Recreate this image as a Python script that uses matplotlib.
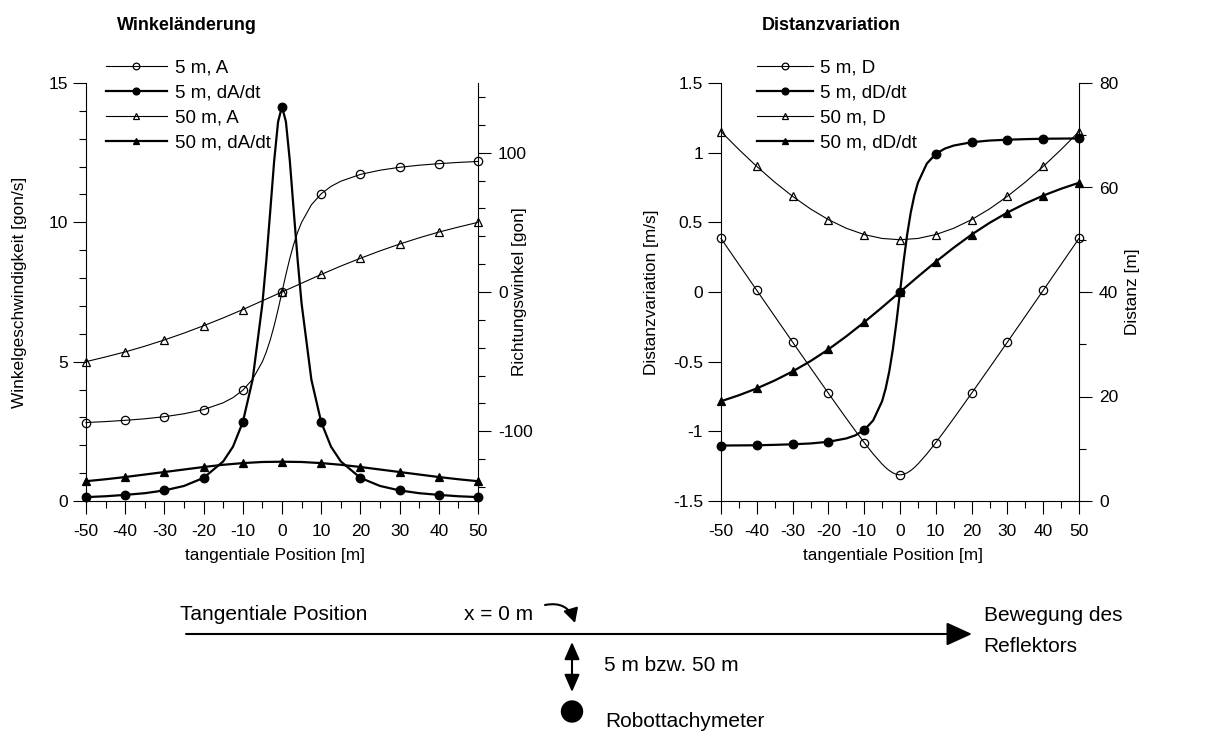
import matplotlib
matplotlib.use('Agg')
import matplotlib.pyplot as plt
from matplotlib.patches import FancyArrowPatch, Circle
from matplotlib.ticker import MultipleLocator, FormatStrFormatter

plt.rcParams['font.family'] = 'Liberation Sans'
plt.rcParams['axes.unicode_minus'] = False

# tangential position [m]; dense grid for the 5 m curves, 5 m grid for 50 m
x_fine = [-50, -45, -40, -35, -30, -25, -20, -15, -12.5, -10, -7.5, -5, -4, -3, -2, -1, 0,
          1, 2, 3, 4, 5, 7.5, 10, 12.5, 15, 20, 25, 30, 35, 40, 45, 50]
x_coarse = [-50, -45, -40, -35, -30, -25, -20, -15, -10, -5, 0,
            5, 10, 15, 20, 25, 30, 35, 40, 45, 50]

# Winkeländerung
a5 = [-93.7, -93.0, -92.1, -91.0, -89.5, -87.4, -84.4, -79.5, -75.8, -70.5, -62.6, -50.0, -43.0, -34.4, -24.2, -12.6, 0.0,
      12.6, 24.2, 34.4, 43.0, 50.0, 62.6, 70.5, 75.8, 79.5, 84.4, 87.4, 89.5, 91.0, 92.1, 93.0, 93.7]
da5 = [0.14, 0.17, 0.22, 0.28, 0.38, 0.54, 0.83, 1.42, 1.95, 2.83, 4.35, 7.08, 8.63, 10.40, 12.20, 13.61, 14.15,
       13.61, 12.20, 10.40, 8.63, 7.08, 4.35, 2.83, 1.95, 1.42, 0.83, 0.54, 0.38, 0.28, 0.22, 0.17, 0.14]
a50 = [-50.0, -46.6, -43.0, -38.9, -34.4, -29.5, -24.2, -18.6, -12.6, -6.3, 0.0,
       6.3, 12.6, 18.6, 24.2, 29.5, 34.4, 38.9, 43.0, 46.6, 50.0]
da50 = [0.71, 0.78, 0.86, 0.95, 1.04, 1.13, 1.22, 1.30, 1.36, 1.40, 1.41,
        1.40, 1.36, 1.30, 1.22, 1.13, 1.04, 0.95, 0.86, 0.78, 0.71]

# Distanzvariation
d5 = [50.25, 45.28, 40.31, 35.36, 30.41, 25.50, 20.62, 15.81, 13.46, 11.18, 9.01, 7.07, 6.40, 5.83, 5.39, 5.10, 5.00,
      5.10, 5.39, 5.83, 6.40, 7.07, 9.01, 11.18, 13.46, 15.81, 20.62, 25.50, 30.41, 35.36, 40.31, 45.28, 50.25]
dd5 = [-1.102, -1.101, -1.100, -1.097, -1.093, -1.087, -1.075, -1.051, -1.029, -0.991, -0.922, -0.784, -0.692, -0.570, -0.412, -0.217, 0.0,
       0.217, 0.412, 0.570, 0.692, 0.784, 0.922, 0.991, 1.029, 1.051, 1.075, 1.087, 1.093, 1.097, 1.100, 1.101, 1.102]
d50 = [70.71, 67.27, 64.03, 61.03, 58.31, 55.90, 53.85, 52.20, 50.99, 50.25, 50.00,
       50.25, 50.99, 52.20, 53.85, 55.90, 58.31, 61.03, 64.03, 67.27, 70.71]
dd50 = [-0.784, -0.741, -0.692, -0.635, -0.570, -0.496, -0.412, -0.318, -0.217, -0.110, 0.0,
        0.110, 0.217, 0.318, 0.412, 0.496, 0.570, 0.635, 0.692, 0.741, 0.784]

W, H = 1231, 733
fig = plt.figure(figsize=(W / 100, H / 100), dpi=100)


def box(x0, y0, x1, y1):
    return [x0 / W, 1 - y1 / H, (x1 - x0) / W, (y1 - y0) / H]


mk_fine = [i for i, v in enumerate(x_fine) if v % 10 == 0]
mk_coarse = [i for i, v in enumerate(x_coarse) if v % 10 == 0]

thin = dict(color='k', lw=0.8, clip_on=False, mew=0.9)
thick = dict(color='k', lw=1.6, clip_on=False, mew=0.9)


def style(ax, tw):
    ax.set_xlim(-50, 50)
    ax.xaxis.set_major_locator(MultipleLocator(10))
    ax.xaxis.set_minor_locator(MultipleLocator(5))
    ax.spines['top'].set_visible(False)
    ax.spines['right'].set_visible(False)
    tw.spines['top'].set_visible(False)
    tw.spines['left'].set_visible(False)
    tw.spines['bottom'].set_visible(False)
    for a in (ax, tw):
        for s in a.spines.values():
            s.set_linewidth(0.8)
        a.tick_params(which='major', direction='out', length=9.4, width=0.8, labelsize=12.5)
        a.tick_params(which='minor', direction='out', length=5, width=0.8)
    ax.tick_params(axis='x', which='major', pad=7)
    ax.tick_params(axis='y', which='major', pad=3.5)
    tw.tick_params(axis='y', which='major', pad=5)


def legend(handles, x0, hl, htp):
    fig.legend(handles, [h.get_label() for h in handles], loc='upper left',
               bbox_to_anchor=(x0 / W, 1 - 59 / H), frameon=False, borderpad=0,
               borderaxespad=0, fontsize=13.5, handlelength=hl, handletextpad=htp,
               labelspacing=0.43, markerscale=0.8)


# ---- left: Winkeländerung
ax1 = fig.add_axes(box(86, 83, 478, 501))
tw1 = ax1.twinx()
l1, = tw1.plot(x_fine, a5, marker='o', ms=6, mfc='none', markevery=mk_fine, label='5 m, A', **thin)
l2, = ax1.plot(x_fine, da5, marker='o', ms=6.2, mfc='k', markevery=mk_fine, label='5 m, dA/dt', **thick)
l3, = tw1.plot(x_coarse, a50, marker='^', ms=5.2, mfc='none', markevery=mk_coarse, label='50 m, A', **thin)
l4, = ax1.plot(x_coarse, da50, marker='^', ms=5.2, mfc='k', markevery=mk_coarse, label='50 m, dA/dt', **thick)
ax1.set_ylim(0, 15)
ax1.yaxis.set_major_locator(MultipleLocator(5))
ax1.yaxis.set_minor_locator(MultipleLocator(1))
tw1.set_ylim(-150, 150)
tw1.yaxis.set_major_locator(MultipleLocator(100))
tw1.yaxis.set_minor_locator(MultipleLocator(20))
style(ax1, tw1)
ax1.set_xlabel('tangentiale Position [m]', fontsize=12.4)
ax1.xaxis.set_label_coords((275 - 86) / 392, (501 - 548) / 418)
ax1.set_ylabel('Winkelgeschwindigkeit [gon/s]', fontsize=12.4)
ax1.yaxis.set_label_coords((26.7 - 86) / 392, 0.5)
tw1.set_ylabel('Richtungswinkel [gon]', fontsize=12.4)
tw1.yaxis.set_label_coords((512 - 86) / 392, 0.5)
ax1.set_title('Winkeländerung', fontsize=13, fontweight='bold', x=(187 - 86) / 392, pad=38.5)
legend([l1, l2, l3, l4], 106, 3.25, 0.43)

# ---- right: Distanzvariation
ax2 = fig.add_axes(box(721, 83, 1079, 501))
tw2 = ax2.twinx()
m1, = tw2.plot(x_fine, d5, marker='o', ms=6, mfc='none', markevery=mk_fine, label='5 m, D', **thin)
m2, = ax2.plot(x_fine, dd5, marker='o', ms=6.2, mfc='k', markevery=mk_fine, label='5 m, dD/dt', **thick)
m3, = tw2.plot(x_coarse, d50, marker='^', ms=5.2, mfc='none', markevery=mk_coarse, label='50 m, D', **thin)
m4, = ax2.plot(x_coarse, dd50, marker='^', ms=5.2, mfc='k', markevery=mk_coarse, label='50 m, dD/dt', **thick)
ax2.set_ylim(-1.5, 1.5)
ax2.yaxis.set_major_locator(MultipleLocator(0.5))
ax2.yaxis.set_major_formatter(FormatStrFormatter('%g'))
tw2.set_ylim(0, 80)
tw2.yaxis.set_major_locator(MultipleLocator(20))
tw2.yaxis.set_minor_locator(MultipleLocator(10))
style(ax2, tw2)
ax2.set_xlabel('tangentiale Position [m]', fontsize=12.4)
ax2.xaxis.set_label_coords((893 - 721) / 358, (501 - 548) / 418)
ax2.set_ylabel('Distanzvariation [m/s]', fontsize=12.4)
ax2.yaxis.set_label_coords((659 - 721) / 358, 0.5)
tw2.set_ylabel('Distanz [m]', fontsize=12.4)
tw2.yaxis.set_label_coords((1125 - 721) / 358, 0.5)
ax2.set_title('Distanzvariation', fontsize=13, fontweight='bold', x=(831 - 721) / 358, pad=38.5)
legend([m1, m2, m3, m4], 757, 3.0, 0.37)

# ---- sketch of the measurement set-up (pixel coordinates)
ov = fig.add_axes([0, 0, 1, 1])
ov.set_xlim(0, W)
ov.set_ylim(H, 0)
ov.set_axis_off()
ov.patch.set_visible(False)

ov.add_patch(FancyArrowPatch((186, 634), (972, 634), arrowstyle='-|>,head_length=15.8,head_width=7.2',
                             mutation_scale=1, lw=1.5, color='k', shrinkA=0, shrinkB=0))
ov.add_patch(FancyArrowPatch((572, 642), (572, 692), arrowstyle='<|-|>,head_length=10.5,head_width=4.6',
                             mutation_scale=1, lw=1.5, color='k', shrinkA=0, shrinkB=0))
ov.add_patch(FancyArrowPatch((545, 605), (575, 623), arrowstyle='-|>,head_length=8.5,head_width=4.5',
                             connectionstyle='arc3,rad=-0.45', mutation_scale=1, lw=1.5, color='k',
                             shrinkA=0, shrinkB=0))
ov.add_patch(Circle((572, 711.5), 10.5, color='k'))

txt = dict(fontsize=15, va='baseline', ha='left')
ov.text(180, 620, 'Tangentiale Position', **txt)
ov.text(464.5, 620, 'x = 0 m', **txt)
ov.text(604, 671, '5 m bzw. 50 m', **txt)
ov.text(605, 726.7, 'Robottachymeter', **txt)
ov.text(983.5, 620.7, 'Bewegung des', **txt)
ov.text(983.5, 651.7, 'Reflektors', **txt)

fig.savefig('out.png', dpi=100)
